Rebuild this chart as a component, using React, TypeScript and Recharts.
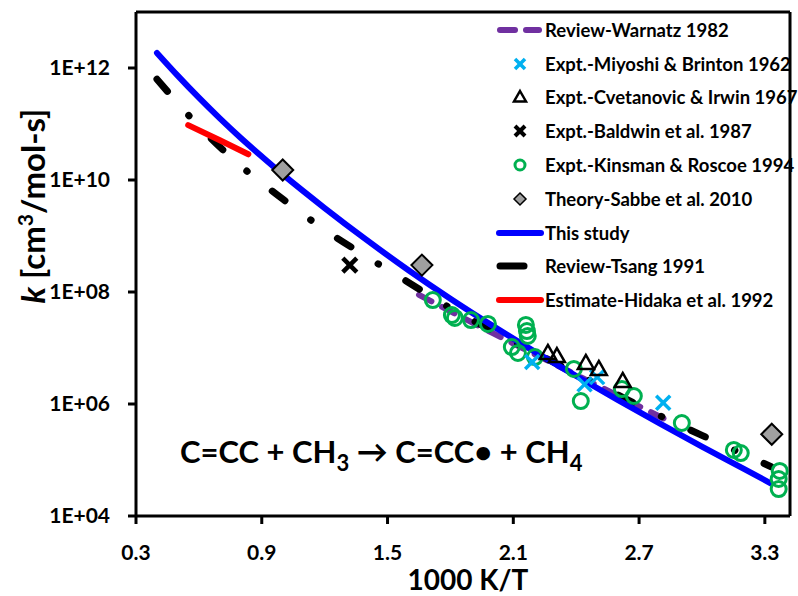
import React from "react";
import { ComposedChart, Line, Scatter, XAxis, YAxis } from "recharts";

// axis ticks
const xTicks = [0.3, 0.9, 1.5, 2.1, 2.7, 3.3];
const xMinorTicks = [0.6, 1.2, 1.8, 2.4, 3.0];
const yTicks = [1e4, 1e6, 1e8, 1e10, 1e12];
const yMinorSteps = [1, 2, 3, 4, 5, 6, 7, 8, 9];

// This study
const thisStudy = [
  { x: 0.4, k: 1.86e12 },
  { x: 0.5, k: 7.24e11 },
  { x: 0.6, k: 2.95e11 },
  { x: 0.7, k: 1.26e11 },
  { x: 0.8, k: 5.62e10 },
  { x: 0.9, k: 2.63e10 },
  { x: 1.0, k: 1.26e10 },
  { x: 1.2, k: 3.16e9 },
  { x: 1.4, k: 8.51e8 },
  { x: 1.6, k: 2.45e8 },
  { x: 1.8, k: 7.59e7 },
  { x: 2.0, k: 2.51e7 },
  { x: 2.2, k: 8.71e6 },
  { x: 2.4, k: 3.16e6 },
  { x: 2.6, k: 1.17e6 },
  { x: 2.8, k: 4.47e5 },
  { x: 3.0, k: 1.74e5 },
  { x: 3.2, k: 6.92e4 },
  { x: 3.33, k: 3.8e4 },
];

// Review-Tsang 1991
const tsang = [
  { x: 0.4, k: 6.31e11 },
  { x: 0.6, k: 9.12e10 },
  { x: 0.8, k: 1.78e10 },
  { x: 1.0, k: 4.57e9 },
  { x: 1.2, k: 1.29e9 },
  { x: 1.4, k: 4.27e8 },
  { x: 1.6, k: 1.48e8 },
  { x: 1.8, k: 5.13e7 },
  { x: 2.0, k: 2.04e7 },
  { x: 2.2, k: 8.32e6 },
  { x: 2.4, k: 3.47e6 },
  { x: 2.6, k: 1.45e6 },
  { x: 2.8, k: 6.17e5 },
  { x: 3.0, k: 2.75e5 },
  { x: 3.2, k: 1.26e5 },
  { x: 3.33, k: 7.59e4 },
];

// Estimate-Hidaka et al. 1992
const hidaka = [
  { x: 0.549, k: 9.55e10 },
  { x: 0.7, k: 5.13e10 },
  { x: 0.836, k: 2.88e10 },
];

// Review-Warnatz 1982
const warnatz = [
  { x: 1.65, k: 8.91e7 },
  { x: 2.0, k: 1.86e7 },
  { x: 2.4, k: 3.31e6 },
  { x: 2.86, k: 4.57e5 },
];

// Expt.-Kinsman & Roscoe 1994
const kinsman = [
  { x: 1.716, k: 7.19e7 },
  { x: 1.807, k: 3.88e7 },
  { x: 1.821, k: 3.44e7 },
  { x: 1.898, k: 3.16e7 },
  { x: 1.979, k: 2.69e7 },
  { x: 2.16, k: 2.58e7 },
  { x: 2.165, k: 2.01e7 },
  { x: 2.169, k: 1.64e7 },
  { x: 2.093, k: 1.04e7 },
  { x: 2.122, k: 8.15e6 },
  { x: 2.203, k: 6.9e6 },
  { x: 2.389, k: 4.22e6 },
  { x: 2.422, k: 1.13e6 },
  { x: 2.618, k: 1.85e6 },
  { x: 2.675, k: 1.39e6 },
  { x: 2.904, k: 4.58e5 },
  { x: 3.152, k: 1.51e5 },
  { x: 3.185, k: 1.33e5 },
  { x: 3.371, k: 6.37e4 },
  { x: 3.366, k: 4.58e4 },
  { x: 3.366, k: 3.03e4 },
];

// Expt.-Miyoshi & Brinton 1962
const miyoshi = [
  { x: 2.19, k: 5.62e6 },
  { x: 2.44, k: 2.24e6 },
  { x: 2.5, k: 3.02e6 },
  { x: 2.815, k: 1.05e6 },
];

// Expt.-Cvetanovic & Irwin 1967
const cvetanovic = [
  { x: 2.265, k: 8.15e6 },
  { x: 2.308, k: 7.19e6 },
  { x: 2.446, k: 5.4e6 },
  { x: 2.508, k: 4.22e6 },
  { x: 2.622, k: 2.58e6 },
];

// Expt.-Baldwin et al. 1987
const baldwin = [{ x: 1.32, k: 3.02e8 }];

// Theory-Sabbe et al. 2010
const sabbe = [
  { x: 1.0, k: 1.51e10 },
  { x: 1.664, k: 3.02e8 },
  { x: 3.333, k: 2.88e5 },
];

const FONT = "Lato, 'Noto Sans', sans-serif";
const BLUE = "#0000FF";
const RED = "#FF0000";
const PURPLE = "#7030A0";
const CYAN = "#00B0F0";
const GREEN = "#00B050";

const xDomain = [0.3, 3.42];
const yDomain = [1e4, 1e13];

const yMinorTicks = yTicks.slice(0, 4).flatMap((t) => yMinorSteps.map((m) => m * t * 10));

const fmtY = (v: number) => "1E+" + String(Math.round(Math.log10(v))).padStart(2, "0");

const tickText = { fontSize: 21, fontWeight: 700, fill: "#000", fontFamily: FONT };
const axisStroke = { stroke: "#000", strokeWidth: 3 };

const CrossMark = ({ cx, cy, s = 6, color = CYAN, w = 3.5 }: any) => (
  <g stroke={color} strokeWidth={w}>
    <line x1={cx - s} y1={cy - s} x2={cx + s} y2={cy + s} />
    <line x1={cx - s} y1={cy + s} x2={cx + s} y2={cy - s} />
  </g>
);

const TriangleMark = ({ cx, cy, s = 8 }: any) => (
  <polygon
    points={`${cx},${cy - s} ${cx + s},${cy + s * 0.75} ${cx - s},${cy + s * 0.75}`}
    fill="none"
    stroke="#000"
    strokeWidth={2.5}
  />
);

const CircleMark = ({ cx, cy, r = 7.5, w = 3 }: any) => (
  <circle cx={cx} cy={cy} r={r} fill="none" stroke={GREEN} strokeWidth={w} />
);

const DiamondMark = ({ cx, cy, s = 10.5, w = 2 }: any) => (
  <polygon
    points={`${cx},${cy - s} ${cx + s},${cy} ${cx},${cy + s} ${cx - s},${cy}`}
    fill="#A0A0A0"
    stroke="#000"
    strokeWidth={w}
  />
);

const legendRows: { label: string; kind: string }[] = [
  { label: "Review-Warnatz 1982", kind: "warnatz" },
  { label: "Expt.-Miyoshi & Brinton 1962", kind: "miyoshi" },
  { label: "Expt.-Cvetanovic & Irwin 1967", kind: "cvetanovic" },
  { label: "Expt.-Baldwin et al. 1987", kind: "baldwin" },
  { label: "Expt.-Kinsman & Roscoe 1994", kind: "kinsman" },
  { label: "Theory-Sabbe et al. 2010", kind: "sabbe" },
  { label: "This study", kind: "blue" },
  { label: "Review-Tsang 1991", kind: "tsang" },
  { label: "Estimate-Hidaka et al. 1992", kind: "hidaka" },
];

const LegendSymbol = ({ kind }: { kind: string }) => {
  const c = 24;
  let el: React.ReactNode = null;
  if (kind === "warnatz")
    el = (
      <g stroke={PURPLE} strokeWidth={6} strokeLinecap="round">
        <line x1={4} y1={10} x2={19} y2={10} />
        <line x1={30} y1={10} x2={43} y2={10} />
      </g>
    );
  else if (kind === "miyoshi") el = <CrossMark cx={c} cy={10} s={5} />;
  else if (kind === "cvetanovic") el = <TriangleMark cx={c} cy={10} s={6} />;
  else if (kind === "baldwin") el = <CrossMark cx={c} cy={10} s={5} color="#000" w={4} />;
  else if (kind === "kinsman") el = <CircleMark cx={c} cy={10} r={5} w={3} />;
  else if (kind === "sabbe") el = <DiamondMark cx={c} cy={10} s={6} w={1.5} />;
  else if (kind === "blue")
    el = <line x1={3} y1={10} x2={45} y2={10} stroke={BLUE} strokeWidth={6} strokeLinecap="round" />;
  else if (kind === "tsang")
    el = <line x1={4} y1={10} x2={28} y2={10} stroke="#000" strokeWidth={7} strokeLinecap="round" />;
  else if (kind === "hidaka")
    el = <line x1={3} y1={10} x2={45} y2={10} stroke={RED} strokeWidth={6} strokeLinecap="round" />;
  return (
    <svg width={48} height={20} style={{ display: "block" }}>
      {el}
    </svg>
  );
};

export default function App() {
  return (
    <div
      style={{
        position: "absolute",
        left: 0,
        top: 0,
        width: 798,
        height: 596,
        background: "#fff",
        fontFamily: FONT,
      }}
    >
      <ComposedChart width={798} height={596} margin={{ top: 11, right: 7, bottom: 0, left: 0 }}>
        <XAxis
          xAxisId="x"
          type="number"
          dataKey="x"
          domain={xDomain}
          ticks={xTicks}
          allowDataOverflow
          height={80}
          tickSize={8}
          tickMargin={21}
          tickFormatter={(v: number) => v.toFixed(1)}
          tick={tickText}
          tickLine={axisStroke}
          axisLine={axisStroke}
        />
        <XAxis
          xAxisId="xin"
          type="number"
          domain={xDomain}
          ticks={[...xTicks, ...xMinorTicks]}
          allowDataOverflow
          mirror
          tick={false}
          tickSize={7}
          tickLine={axisStroke}
          axisLine={false}
        />
        <XAxis
          xAxisId="top"
          orientation="top"
          type="number"
          domain={xDomain}
          allowDataOverflow
          height={1}
          tick={false}
          tickLine={false}
          axisLine={axisStroke}
        />
        <YAxis
          yAxisId="y"
          type="number"
          dataKey="k"
          scale="log"
          domain={yDomain}
          ticks={yTicks}
          allowDataOverflow
          width={136}
          tickSize={8}
          tickMargin={18}
          tickFormatter={fmtY}
          tick={tickText}
          tickLine={axisStroke}
          axisLine={axisStroke}
        />
        <YAxis
          yAxisId="yin"
          type="number"
          scale="log"
          domain={yDomain}
          ticks={[...yTicks, ...yMinorTicks]}
          allowDataOverflow
          mirror
          tick={false}
          tickSize={7}
          tickLine={axisStroke}
          axisLine={false}
        />
        <YAxis
          yAxisId="right"
          orientation="right"
          type="number"
          scale="log"
          domain={yDomain}
          allowDataOverflow
          width={1}
          tick={false}
          tickLine={false}
          axisLine={axisStroke}
        />

        <Line
          xAxisId="x"
          yAxisId="y"
          data={warnatz}
          dataKey="k"
          type="monotone"
          stroke={PURPLE}
          strokeWidth={6}
          strokeDasharray="14 12"
          strokeLinecap="round"
          dot={false}
          isAnimationActive={false}
        />
        <Scatter
          xAxisId="x"
          yAxisId="y"
          data={kinsman}
          dataKey="k"
          shape={(p: any) => <CircleMark cx={p.cx} cy={p.cy} />}
          isAnimationActive={false}
        />
        <Scatter
          xAxisId="x"
          yAxisId="y"
          data={miyoshi}
          dataKey="k"
          shape={(p: any) => <CrossMark cx={p.cx} cy={p.cy} s={7} />}
          isAnimationActive={false}
        />
        <Scatter
          xAxisId="x"
          yAxisId="y"
          data={cvetanovic}
          dataKey="k"
          shape={(p: any) => <TriangleMark cx={p.cx} cy={p.cy} />}
          isAnimationActive={false}
        />
        <Line
          xAxisId="x"
          yAxisId="y"
          data={tsang}
          dataKey="k"
          type="monotone"
          stroke="#000"
          strokeWidth={7}
          strokeDasharray="16 32 0.5 32"
          strokeLinecap="round"
          dot={false}
          isAnimationActive={false}
        />
        <Line
          xAxisId="x"
          yAxisId="y"
          data={thisStudy}
          dataKey="k"
          type="monotone"
          stroke={BLUE}
          strokeWidth={6}
          strokeLinecap="round"
          dot={false}
          isAnimationActive={false}
        />
        <Line
          xAxisId="x"
          yAxisId="y"
          data={hidaka}
          dataKey="k"
          type="monotone"
          stroke={RED}
          strokeWidth={6}
          strokeLinecap="round"
          dot={false}
          isAnimationActive={false}
        />
        <Scatter
          xAxisId="x"
          yAxisId="y"
          data={baldwin}
          dataKey="k"
          shape={(p: any) => <CrossMark cx={p.cx} cy={p.cy} s={7} color="#000" w={4.5} />}
          isAnimationActive={false}
        />
        <Scatter
          xAxisId="x"
          yAxisId="y"
          data={sabbe}
          dataKey="k"
          shape={(p: any) => <DiamondMark cx={p.cx} cy={p.cy} />}
          isAnimationActive={false}
        />
      </ComposedChart>

      {/* legend */}
      <div style={{ position: "absolute", left: 496, top: 13 }}>
        {legendRows.map((r) => (
          <div key={r.label} style={{ display: "flex", alignItems: "center", height: 33.8 }}>
            <LegendSymbol kind={r.kind} />
            <span style={{ fontSize: 18.5, fontWeight: 700, color: "#000", whiteSpace: "nowrap", marginLeft: 1 }}>
              {r.label}
            </span>
          </div>
        ))}
      </div>

      {/* titles and reaction */}
      <svg
        width={798}
        height={596}
        style={{ position: "absolute", left: 0, top: 0, pointerEvents: "none" }}
        fontFamily={FONT}
        fontWeight={700}
      >
        <text x={468} y={590} fontSize={28} textAnchor="middle" fill="#000">
          1000 K/T
        </text>
        <text transform="translate(45,206) rotate(-90)" fontSize={33} textAnchor="middle" fill="#000">
          <tspan fontStyle="italic">k</tspan>
          <tspan> [cm</tspan>
          <tspan fontSize={21} dy={-12}>3</tspan>
          <tspan dy={12}>/mol-s]</tspan>
        </text>
        <text x={180} y={463} fontSize={31} fill="#000">
          <tspan>C=CC + CH</tspan>
          <tspan fontSize={22} dy={8}>3</tspan>
          <tspan dy={-8}> → C=CC• + CH</tspan>
          <tspan fontSize={22} dy={8}>4</tspan>
        </text>
      </svg>
    </div>
  );
}
